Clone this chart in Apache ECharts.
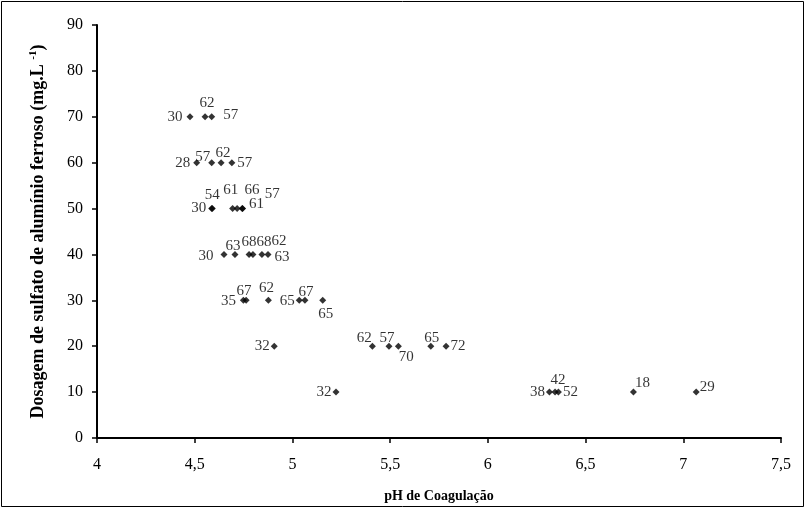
<!DOCTYPE html>
<html>
<head>
<meta charset="utf-8">
<script src="https://cdn.jsdelivr.net/npm/echarts@6/dist/echarts.min.js"></script>
<style>
  html, body { margin: 0; padding: 0; background: #fff; }
  #chart { width: 805px; height: 508px; }
</style>
</head>
<body>
<div id="chart"></div>
<script>
// pH de coagulação (x) e dosagem (y) de cada ensaio, com o valor rotulado
const phValues = [
  4.476, 4.553, 4.587,
  4.51, 4.587, 4.635, 4.69,
  4.587, 4.59, 4.694, 4.717, 4.743, 4.745,
  4.65, 4.706, 4.778, 4.798, 4.844, 4.875,
  4.749, 4.763, 4.877, 5.035, 5.064, 5.155,
  4.907, 5.409, 5.494, 5.542, 5.708, 5.786,
  5.223, 6.315, 6.344, 6.361, 6.745, 7.066
];
const doseValues = [
  70, 70, 70,
  60, 60, 60, 60,
  50, 50, 50, 50, 50, 50,
  40, 40, 40, 40, 40, 40,
  30, 30, 30, 30, 30, 30,
  20, 20, 20, 20, 20, 20,
  10, 10, 10, 10, 10, 10
];
const pointLabels = [
  30, 62, 57,
  28, 57, 62, 57,
  30, 54, 61, 66, 57, 61,
  30, 63, 68, 68, 62, 63,
  35, 67, 62, 65, 67, 65,
  32, 62, 57, 70, 65, 72,
  32, 38, 42, 52, 18, 29
];
const xTicks = { min: 4, max: 7.5, step: 0.5 };
const yTicks = { min: 0, max: 90, step: 10 };

// label placement (as dragged in the original)
const labelSide = [
  'left', 'top', 'right',
  'left', 'top', 'top', 'right',
  'left', 'top', 'top', 'top', 'top', 'right',
  'left', 'top', 'top', 'top', 'top', 'right',
  'left', 'top', 'top', 'left', 'top', 'bottom',
  'left', 'top', 'top', 'bottom', 'top', 'right',
  'left', 'left', 'top', 'right', 'right', 'right'
];
const labelShift = [
  [-2, 0], [2, -1], [6, -2],
  [-1, 0], [-9, 7], [2, 3], [0, 0],
  [0, 0], [0, 0], [-2, -5], [15, -5], [30, -1], [1, -4],
  [-5, 2], [-2, 5], [0, 1], [11, 1], [17, 0], [1, 3],
  [-2, 1], [-2, 4], [-2, 1], [1, 1], [1, 5], [3, 1],
  [1, 0], [-8, 5], [-2, 5], [8, -2], [1, 5], [-1, 0],
  [1, 0], [1, 0], [3, 1], [-1, 0], [-4, -9], [-2, -5]
];

const serif = '"Liberation Serif", "Times New Roman", serif';

const points = phValues.map((x, i) => ({
  value: [x, doseValues[i]],
  label: { position: labelSide[i] }
}));

const chart = echarts.init(document.getElementById('chart'), null, { renderer: 'canvas' });
chart.setOption({
  animation: false,
  backgroundColor: '#fff',
  grid: { left: 97, right: 24, top: 25, bottom: 70, outerBoundsMode: 'none' },
  graphic: [{
    type: 'rect',
    shape: { x: 1.5, y: 1.5, width: 802, height: 505 },
    style: { fill: 'none', stroke: '#000', lineWidth: 1 },
    silent: true
  }],
  xAxis: {
    type: 'value',
    min: xTicks.min,
    max: xTicks.max,
    interval: xTicks.step,
    name: 'pH de Coagulação',
    nameLocation: 'middle',
    nameGap: 51,
    nameTextStyle: { fontFamily: serif, fontWeight: 'bold', fontSize: 14, color: '#000' },
    axisLine: { lineStyle: { color: '#000', width: 2 } },
    axisTick: { show: true, length: 5, lineStyle: { color: '#000', width: 1.5 } },
    axisLabel: {
      margin: 19,
      fontFamily: serif,
      fontSize: 16,
      color: '#000',
      formatter: (v) => String(v).replace('.', ',')
    },
    splitLine: { show: false }
  },
  yAxis: {
    type: 'value',
    min: yTicks.min,
    max: yTicks.max,
    interval: yTicks.step,
    name: '{t|Dosagem de sulfato de alumínio ferroso (mg.L }{s|-1}{t|)}',
    nameLocation: 'middle',
    nameGap: 49,
    nameTextStyle: {
      rich: {
        t: { fontFamily: serif, fontWeight: 'bold', fontSize: 18, color: '#000' },
        s: { fontFamily: serif, fontWeight: 'bold', fontSize: 11, color: '#000', verticalAlign: 'top', padding: [0, 0, 9, 0] }
      }
    },
    axisLine: { show: true, lineStyle: { color: '#000', width: 2 } },
    axisTick: { show: true, length: 5, lineStyle: { color: '#000', width: 1.5 } },
    axisLabel: { margin: 14, fontFamily: serif, fontSize: 16, color: '#000' },
    splitLine: { show: false }
  },
  series: [{
    type: 'scatter',
    symbol: 'diamond',
    symbolSize: 7,
    itemStyle: { color: '#000' },
    label: {
      show: true,
      distance: 2,
      fontFamily: serif,
      fontSize: 15,
      color: '#000',
      formatter: (p) => String(pointLabels[p.dataIndex])
    },
    labelLayout: (p) => ({
      dx: labelShift[p.dataIndex][0],
      dy: labelShift[p.dataIndex][1],
      hideOverlap: false
    }),
    data: points
  }]
});
</script>
</body>
</html>
